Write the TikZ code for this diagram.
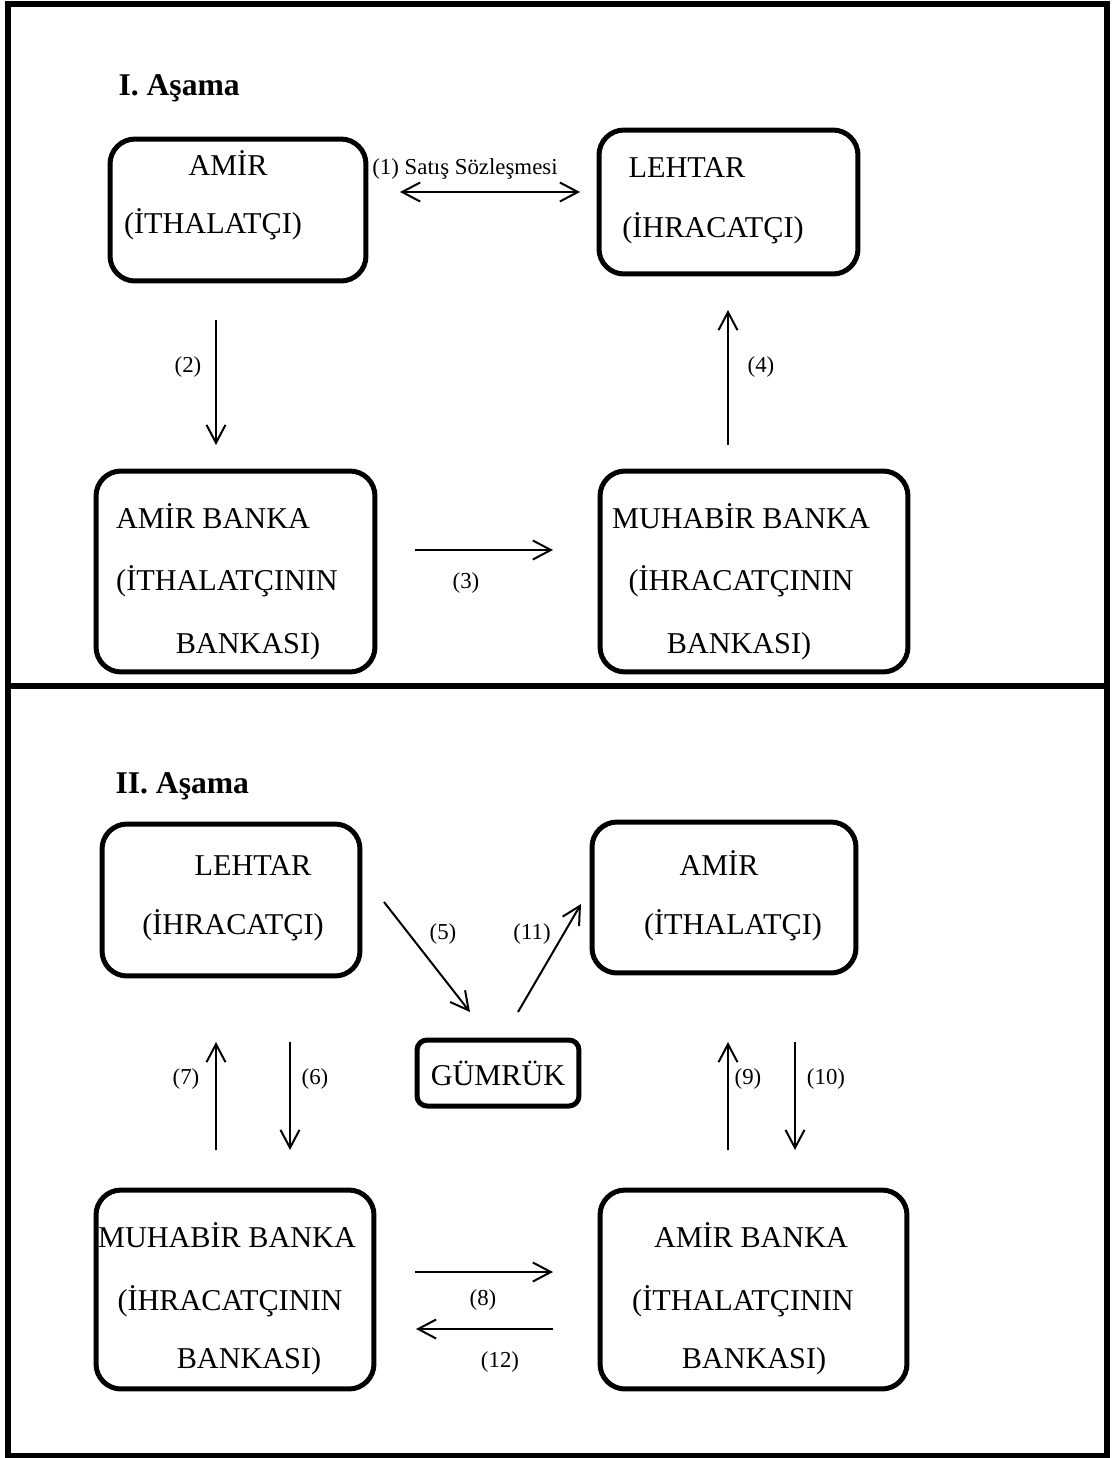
\documentclass[tikz,border=0pt]{standalone}
\usepackage{fontspec}
\setmainfont{Liberation Serif}
\usepackage{tikz}
\usetikzlibrary{arrows.meta}
\usetikzlibrary{calc}
\usetikzlibrary{positioning}

\begin{document}
\begin{tikzpicture}[x=0.02cm,y=-0.02cm,semithick,>={Straight Barb[length=3.6mm,width=3.8mm]}]
		\tikzstyle{kutu}=[draw, rounded corners=0.5cm, line width=0.1cm, inner sep=0pt]
		\tikzstyle{yazi}=[anchor=base, inner sep=0pt, font=\fontsize{17.2}{20}\selectfont]
		\tikzstyle{etiket}=[anchor=base, inner sep=0pt, font=\fontsize{13}{15}\selectfont]
		\tikzstyle{ok}=[->, line width=0.04cm]
		\tikzstyle{baslik}=[anchor=base west, inner sep=0pt, font=\fontsize{18}{21}\selectfont\bfseries]
		\useasboundingbox (0,0) rectangle (1113,1458);
		\draw[line width=0.11cm] (8,4) rectangle (1107,1456);
		\draw[line width=0.11cm] (8,686) -- (1107,686);

		% I. Asama
		\node[baslik] (b1) at (118,95) {I. Aşama};
		\node[kutu, minimum width=5.12cm, minimum height=2.84cm] (amir) at (238,210) {};
		\node[kutu, minimum width=5.18cm, minimum height=2.88cm] (lehtar) at (728.5,202) {};
		\node[kutu, minimum width=5.58cm, minimum height=4.02cm] (amirbanka) at (235.5,571.5) {};
		\node[kutu, minimum width=6.16cm, minimum height=4.02cm] (muhabir) at (754,571.5) {};
		\node[yazi] (amira) at (228,175) {AMİR};
		\node[yazi] (amirb) at (213,233) {(İTHALATÇI)};
		\node[yazi] (lehtara) at (687,177) {LEHTAR};
		\node[yazi] (lehtarb) at (713,237) {(İHRACATÇI)};
		\node[yazi] (amirbankaa) at (213,528) {AMİR BANKA};
		\node[yazi] (amirbankab) at (227,590) {(İTHALATÇININ};
		\node[yazi] (amirbankac) at (248,653) {BANKASI)};
		\node[yazi] (muhabira) at (741,528) {MUHABİR BANKA};
		\node[yazi] (muhabirb) at (741,590) {(İHRACATÇININ};
		\node[yazi] (muhabirc) at (739,653) {BANKASI)};

		\coordinate (o1a) at (400,192);
		\coordinate (o1b) at (580,192);
		\coordinate (o2a) at (216,320);
		\coordinate (o2b) at (216,445);
		\coordinate (o3a) at (415,550);
		\coordinate (o3b) at (553,550);
		\coordinate (o4a) at (728,445);
		\coordinate (o4b) at (728,310);
		\draw[ok,<->] (o1a) -- (o1b);
		\draw[ok] (o2a) -- (o2b);
		\draw[ok] (o3a) -- (o3b);
		\draw[ok] (o4a) -- (o4b);
		\node[etiket] (e1) at (465,174) {(1) Satış Sözleşmesi};
		\node[etiket] (e2) at (188,372) {(2)};
		\node[etiket] (e3) at (466,588) {(3)};
		\node[etiket] (e4) at (761,372) {(4)};

		% II. Asama
		\node[baslik] (b2) at (115,793) {II. Aşama};
		\node[kutu, minimum width=5.16cm, minimum height=3.04cm] (lehtar2) at (231,900) {};
		\node[kutu, minimum width=5.28cm, minimum height=3.02cm] (amir2) at (724,897.5) {};
		\node[kutu, rounded corners=0.2cm, minimum width=3.24cm, minimum height=1.32cm, font=\fontsize{17.2}{20}\selectfont] (gumruk) at (498,1073) {GÜMRÜK};
		\node[kutu, minimum width=5.56cm, minimum height=3.98cm] (muhabir2) at (235,1289.5) {};
		\node[kutu, minimum width=6.14cm, minimum height=3.98cm] (amirbanka2) at (753.5,1289.5) {};
		\node[yazi] (lehtar2a) at (253,875) {LEHTAR};
		\node[yazi] (lehtar2b) at (233,934) {(İHRACATÇI)};
		\node[yazi] (amir2a) at (719,875) {AMİR};
		\node[yazi] (amir2b) at (733,934) {(İTHALATÇI)};
		\node[yazi] (muhabir2a) at (227,1247) {MUHABİR BANKA};
		\node[yazi] (muhabir2b) at (230,1310) {(İHRACATÇININ};
		\node[yazi] (muhabir2c) at (249,1368) {BANKASI)};
		\node[yazi] (amirbanka2a) at (751,1247) {AMİR BANKA};
		\node[yazi] (amirbanka2b) at (743,1310) {(İTHALATÇININ};
		\node[yazi] (amirbanka2c) at (754,1368) {BANKASI)};

		\coordinate (o5a) at (384,902);
		\coordinate (o5b) at (470,1012);
		\coordinate (o11a) at (518,1012);
		\coordinate (o11b) at (581,904);
		\coordinate (o7a) at (216,1150);
		\coordinate (o7b) at (216,1042);
		\coordinate (o6a) at (290,1042);
		\coordinate (o6b) at (290,1150);
		\coordinate (o9a) at (728,1150);
		\coordinate (o9b) at (728,1042);
		\coordinate (o10a) at (795,1042);
		\coordinate (o10b) at (795,1150);
		\coordinate (o8a) at (415,1272);
		\coordinate (o8b) at (553,1272);
		\coordinate (o12a) at (553,1329);
		\coordinate (o12b) at (416,1329);
		\draw[ok] (o5a) -- (o5b);
		\draw[ok] (o11a) -- (o11b);
		\draw[ok] (o7a) -- (o7b);
		\draw[ok] (o6a) -- (o6b);
		\draw[ok] (o9a) -- (o9b);
		\draw[ok] (o10a) -- (o10b);
		\draw[ok] (o8a) -- (o8b);
		\draw[ok] (o12a) -- (o12b);
		\node[etiket] (e5) at (443,939) {(5)};
		\node[etiket] (e11) at (532,939) {(11)};
		\node[etiket] (e7) at (186,1084) {(7)};
		\node[etiket] (e6) at (315,1084) {(6)};
		\node[etiket] (e9) at (748,1084) {(9)};
		\node[etiket] (e10) at (826,1084) {(10)};
		\node[etiket] (e8) at (483,1305) {(8)};
		\node[etiket] (e12) at (500,1367) {(12)};
\end{tikzpicture}
\end{document}
